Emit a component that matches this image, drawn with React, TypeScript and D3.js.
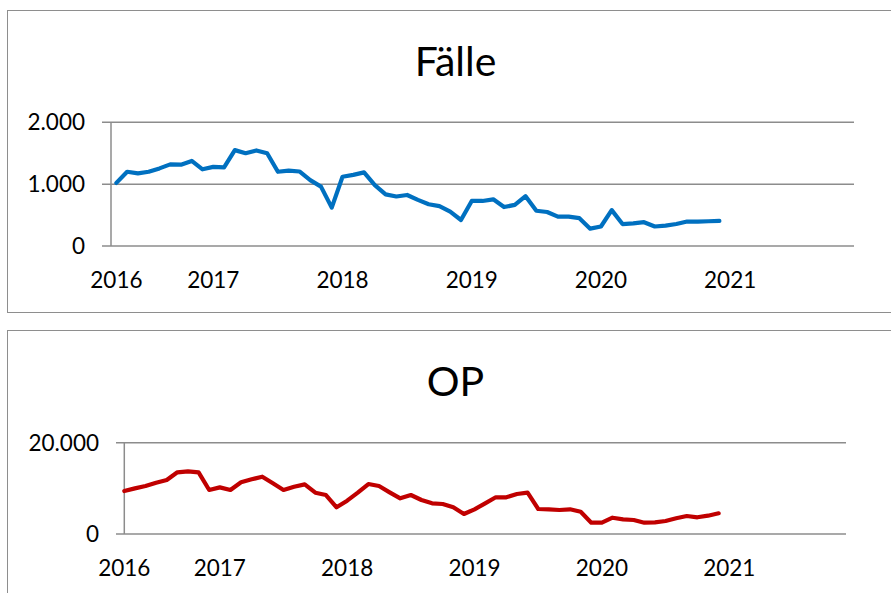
import React from "react";
import * as d3 from "d3";

// monthly values
const faelle = [
  1020, 1200, 1175, 1200, 1255, 1320, 1315, 1375, 1240, 1280, 1270, 1550, 1500, 1545, 1500,
  1200, 1220, 1205, 1065, 960, 620, 1120, 1150, 1190, 985, 835, 800, 825, 745, 675, 645, 555,
  420, 728, 728, 755, 630, 665, 805, 570, 550, 475, 475, 450, 280, 315, 580, 355, 365, 385,
  315, 330, 355, 395, 395, 400, 405,
];
const op = [
  9420, 10000, 10510, 11230, 11830, 13510, 13730, 13510, 9640, 10220, 9640, 11320, 11980,
  12550, 11100, 9640, 10360, 10880, 9050, 8540, 5840, 7300, 9050, 10950, 10510, 9130, 7810,
  8540, 7450, 6720, 6570, 5850, 4380, 5410, 6720, 8040, 8040, 8760, 9050, 5480, 5410, 5260,
  5410, 4880, 2480, 2480, 3570, 3220, 3070, 2480, 2560, 2850, 3440, 3940, 3660, 4010, 4530,
];
const yearLabels = ["2016", "2017", "2018", "2019", "2020", "2021"];
const yearIndex = [0, 9, 21, 33, 45, 57];
const faelleTicks = [0, 1000, 2000];
const opTicks = [0, 20000];
const categoryCount = 69;

const de = d3.formatLocale({ decimal: ",", thousands: ".", grouping: [3], currency: ["", " €"] });
const fmt = de.format(",d");

const FONT = "Lato, 'Open Sans', sans-serif";
const GRID = "#8c8c8c";

function Panel({ title, values, ticks, color, boxTop, boxHeight, plot, between }) {
  // between: points sit in the middle of each category, otherwise on the tick marks
  const x = between
    ? d3.scaleLinear().domain([-0.5, categoryCount - 0.5]).range([plot.left, plot.right])
    : d3.scaleLinear().domain([0, categoryCount - 1]).range([plot.left, plot.right]);
  const y = d3
    .scaleLinear()
    .domain([0, d3.max(ticks)])
    .range([plot.bottom, plot.top]);
  const line = d3
    .line<number>()
    .x((d, i) => x(i))
    .y((d) => y(d));

  return (
    <g>
      <rect x={7.5} y={boxTop} width={900} height={boxHeight} fill="#fff" stroke="#8e8e8e" strokeWidth={1} />
      <text x={455.5} y={boxTop + 65.5} textAnchor="middle" fontFamily={FONT} fontSize={41} fill="#000">
        {title}
      </text>
      {ticks.map((t) => (
        <g key={t}>
          <line x1={plot.tickLeft} x2={plot.right} y1={y(t)} y2={y(t)} stroke={GRID} strokeWidth={1.5} />
          <text
            x={plot.labelRight}
            y={y(t) + 8.1}
            textAnchor="end"
            fontFamily={FONT}
            fontSize={22.5}
            fill="#000"
          >
            {fmt(t)}
          </text>
        </g>
      ))}
      <line x1={plot.left} x2={plot.left} y1={plot.top} y2={plot.bottom} stroke={GRID} strokeWidth={1.5} />
      {yearLabels.map((lab, i) => (
        <text
          key={lab}
          x={x(yearIndex[i])}
          y={plot.bottom + 42}
          textAnchor="middle"
          fontFamily={FONT}
          fontSize={22.5}
          fill="#000"
        >
          {lab}
        </text>
      ))}
      <path
        d={line(values) || ""}
        fill="none"
        stroke={color}
        strokeWidth={4.2}
        strokeLinejoin="round"
        strokeLinecap="round"
      />
    </g>
  );
}

export default function App() {
  return (
    <svg
      width={891}
      height={593}
      style={{ position: "absolute", left: 0, top: 0, background: "#fff" }}
    >
      <Panel
        title="Fälle"
        values={faelle}
        ticks={faelleTicks}
        color="#0070C0"
        boxTop={10.5}
        boxHeight={302}
        between={true}
        plot={{ left: 111, right: 854, top: 122.3, bottom: 246, tickLeft: 102, labelRight: 85 }}
      />
      <Panel
        title="OP"
        values={op}
        ticks={opTicks}
        color="#C00000"
        boxTop={330.5}
        boxHeight={400}
        between={false}
        plot={{ left: 124.3, right: 846, top: 442.7, bottom: 534, tickLeft: 116, labelRight: 99 }}
      />
    </svg>
  );
}
